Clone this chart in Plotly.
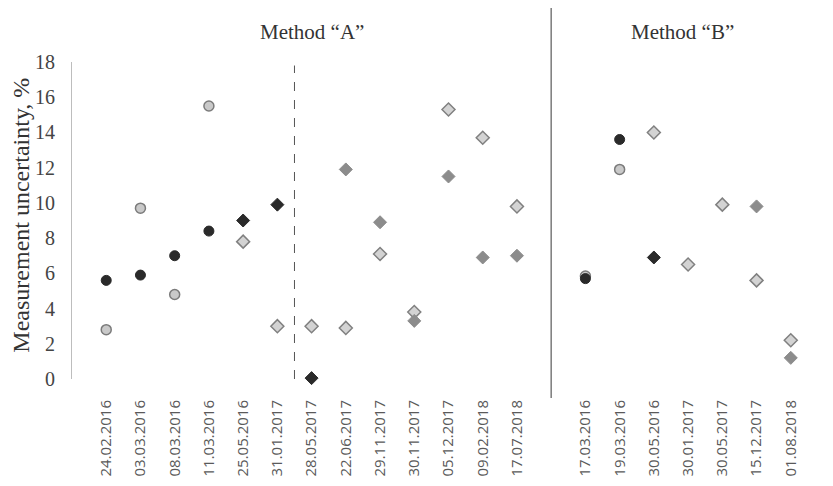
import plotly.graph_objects as go

# Categories (blank slot separates the two methods)
dates_a = ["24.02.2016", "03.03.2016", "08.03.2016", "11.03.2016", "25.05.2016", "31.01.2017",
           "28.05.2017", "22.06.2017", "29.11.2017", "30.11.2017", "05.12.2017", "09.02.2018", "17.07.2018"]
dates_b = ["17.03.2016", "19.03.2016", "30.05.2016", "30.01.2017", "30.05.2017", "15.12.2017", "01.08.2018"]
categories = dates_a + [""] + dates_b

# Series values
dark_circle = {"24.02.2016": 5.6, "03.03.2016": 5.9, "08.03.2016": 7.0, "11.03.2016": 8.4,
               "17.03.2016": 5.7, "19.03.2016": 13.6}
light_circle = {"24.02.2016": 2.8, "03.03.2016": 9.7, "08.03.2016": 4.8, "11.03.2016": 15.5,
                "17.03.2016": 5.85, "19.03.2016": 11.9}
dark_diamond = {"25.05.2016": 9.0, "31.01.2017": 9.9, "28.05.2017": 0.05, "30.05.2016": 6.9}
light_diamond = {"25.05.2016": 7.8, "31.01.2017": 3.0, "28.05.2017": 3.0, "22.06.2017": 2.9,
                 "29.11.2017": 7.1, "30.11.2017": 3.8, "05.12.2017": 15.3, "09.02.2018": 13.7,
                 "17.07.2018": 9.8, "30.05.2016": 14.0, "30.01.2017": 6.5, "30.05.2017": 9.9,
                 "15.12.2017": 5.6, "01.08.2018": 2.2}
grey_diamond = {"22.06.2017": 11.9, "29.11.2017": 8.9, "30.11.2017": 3.3, "05.12.2017": 11.5,
                "09.02.2018": 6.9, "17.07.2018": 7.0, "15.12.2017": 9.8, "01.08.2018": 1.2}

y_ticks = list(range(0, 19, 2))

def xy(series):
    xs = [categories.index(k) for k in series]
    ys = list(series.values())
    return xs, ys

fig = go.Figure()

def add(series, symbol, fill, line_color, line_width, size):
    xs, ys = xy(series)
    fig.add_trace(go.Scatter(x=xs, y=ys, mode="markers", cliponaxis=False, showlegend=False,
                             marker=dict(symbol=symbol, size=size, color=fill,
                                         line=dict(color=line_color, width=line_width))))

add(light_circle, "circle", "#c9c9c9", "#7b7b7b", 1.5, 10)
add(dark_circle, "circle", "#2a2a2a", "#2a2a2a", 1, 10)
add(light_diamond, "diamond", "#d3d3d3", "#808080", 1.5, 10)
add(grey_diamond, "diamond", "#8c8c8c", "#8c8c8c", 1, 10)
add(dark_diamond, "diamond", "#2a2a2a", "#2a2a2a", 1, 10)

sep = categories.index("")
# solid separator between methods
fig.add_shape(type="line", xref="x", yref="paper", x0=sep, x1=sep, y0=-0.06, y1=1.17,
              line=dict(color="#7a7a7a", width=1.5))
# dashed line inside method A
fig.add_shape(type="line", xref="x", yref="y", x0=5.5, x1=5.5, y0=0, y1=17.8,
              line=dict(color="#555555", width=1, dash="dash"))

fig.add_annotation(x=6, y=1.095, xref="x", yref="paper", yanchor="middle", text="Method “A”",
                   showarrow=False, font=dict(family="Liberation Serif", size=21, color="#333333"))
fig.add_annotation(x=16.85, y=1.095, xref="x", yref="paper", yanchor="middle", text="Method “B”",
                   showarrow=False, font=dict(family="Liberation Serif", size=21, color="#333333"))
# y-axis title
fig.add_annotation(x=-0.067, y=0.517, xref="paper", yref="paper", xanchor="center", yanchor="middle",
                   text="Measurement uncertainty, %", textangle=-90, showarrow=False,
                   font=dict(family="Liberation Serif", size=24, color="#333333"))

fig.update_layout(
    width=825, height=478,
    margin=dict(l=64, r=8, t=54, b=107),
    plot_bgcolor="white", paper_bgcolor="white",
    xaxis=dict(range=[-1, 21], tickmode="array", tickvals=list(range(len(categories))),
               ticktext=categories, tickangle=-90, showgrid=False, zeroline=False,
               showline=False, ticks="", ticklabelstandoff=17, automargin=False,
               tickfont=dict(family="Open Sans", size=15, color="#5a5a5a")),
    yaxis=dict(range=[0, 18], tickvals=y_ticks, showgrid=False, zeroline=False,
               showline=True, linecolor="#bdbdbd", linewidth=1, ticks="",
               ticklabelstandoff=12, automargin=False,
               tickfont=dict(family="Liberation Serif", size=20, color="#444444")),
)

fig.write_html("out.html")
